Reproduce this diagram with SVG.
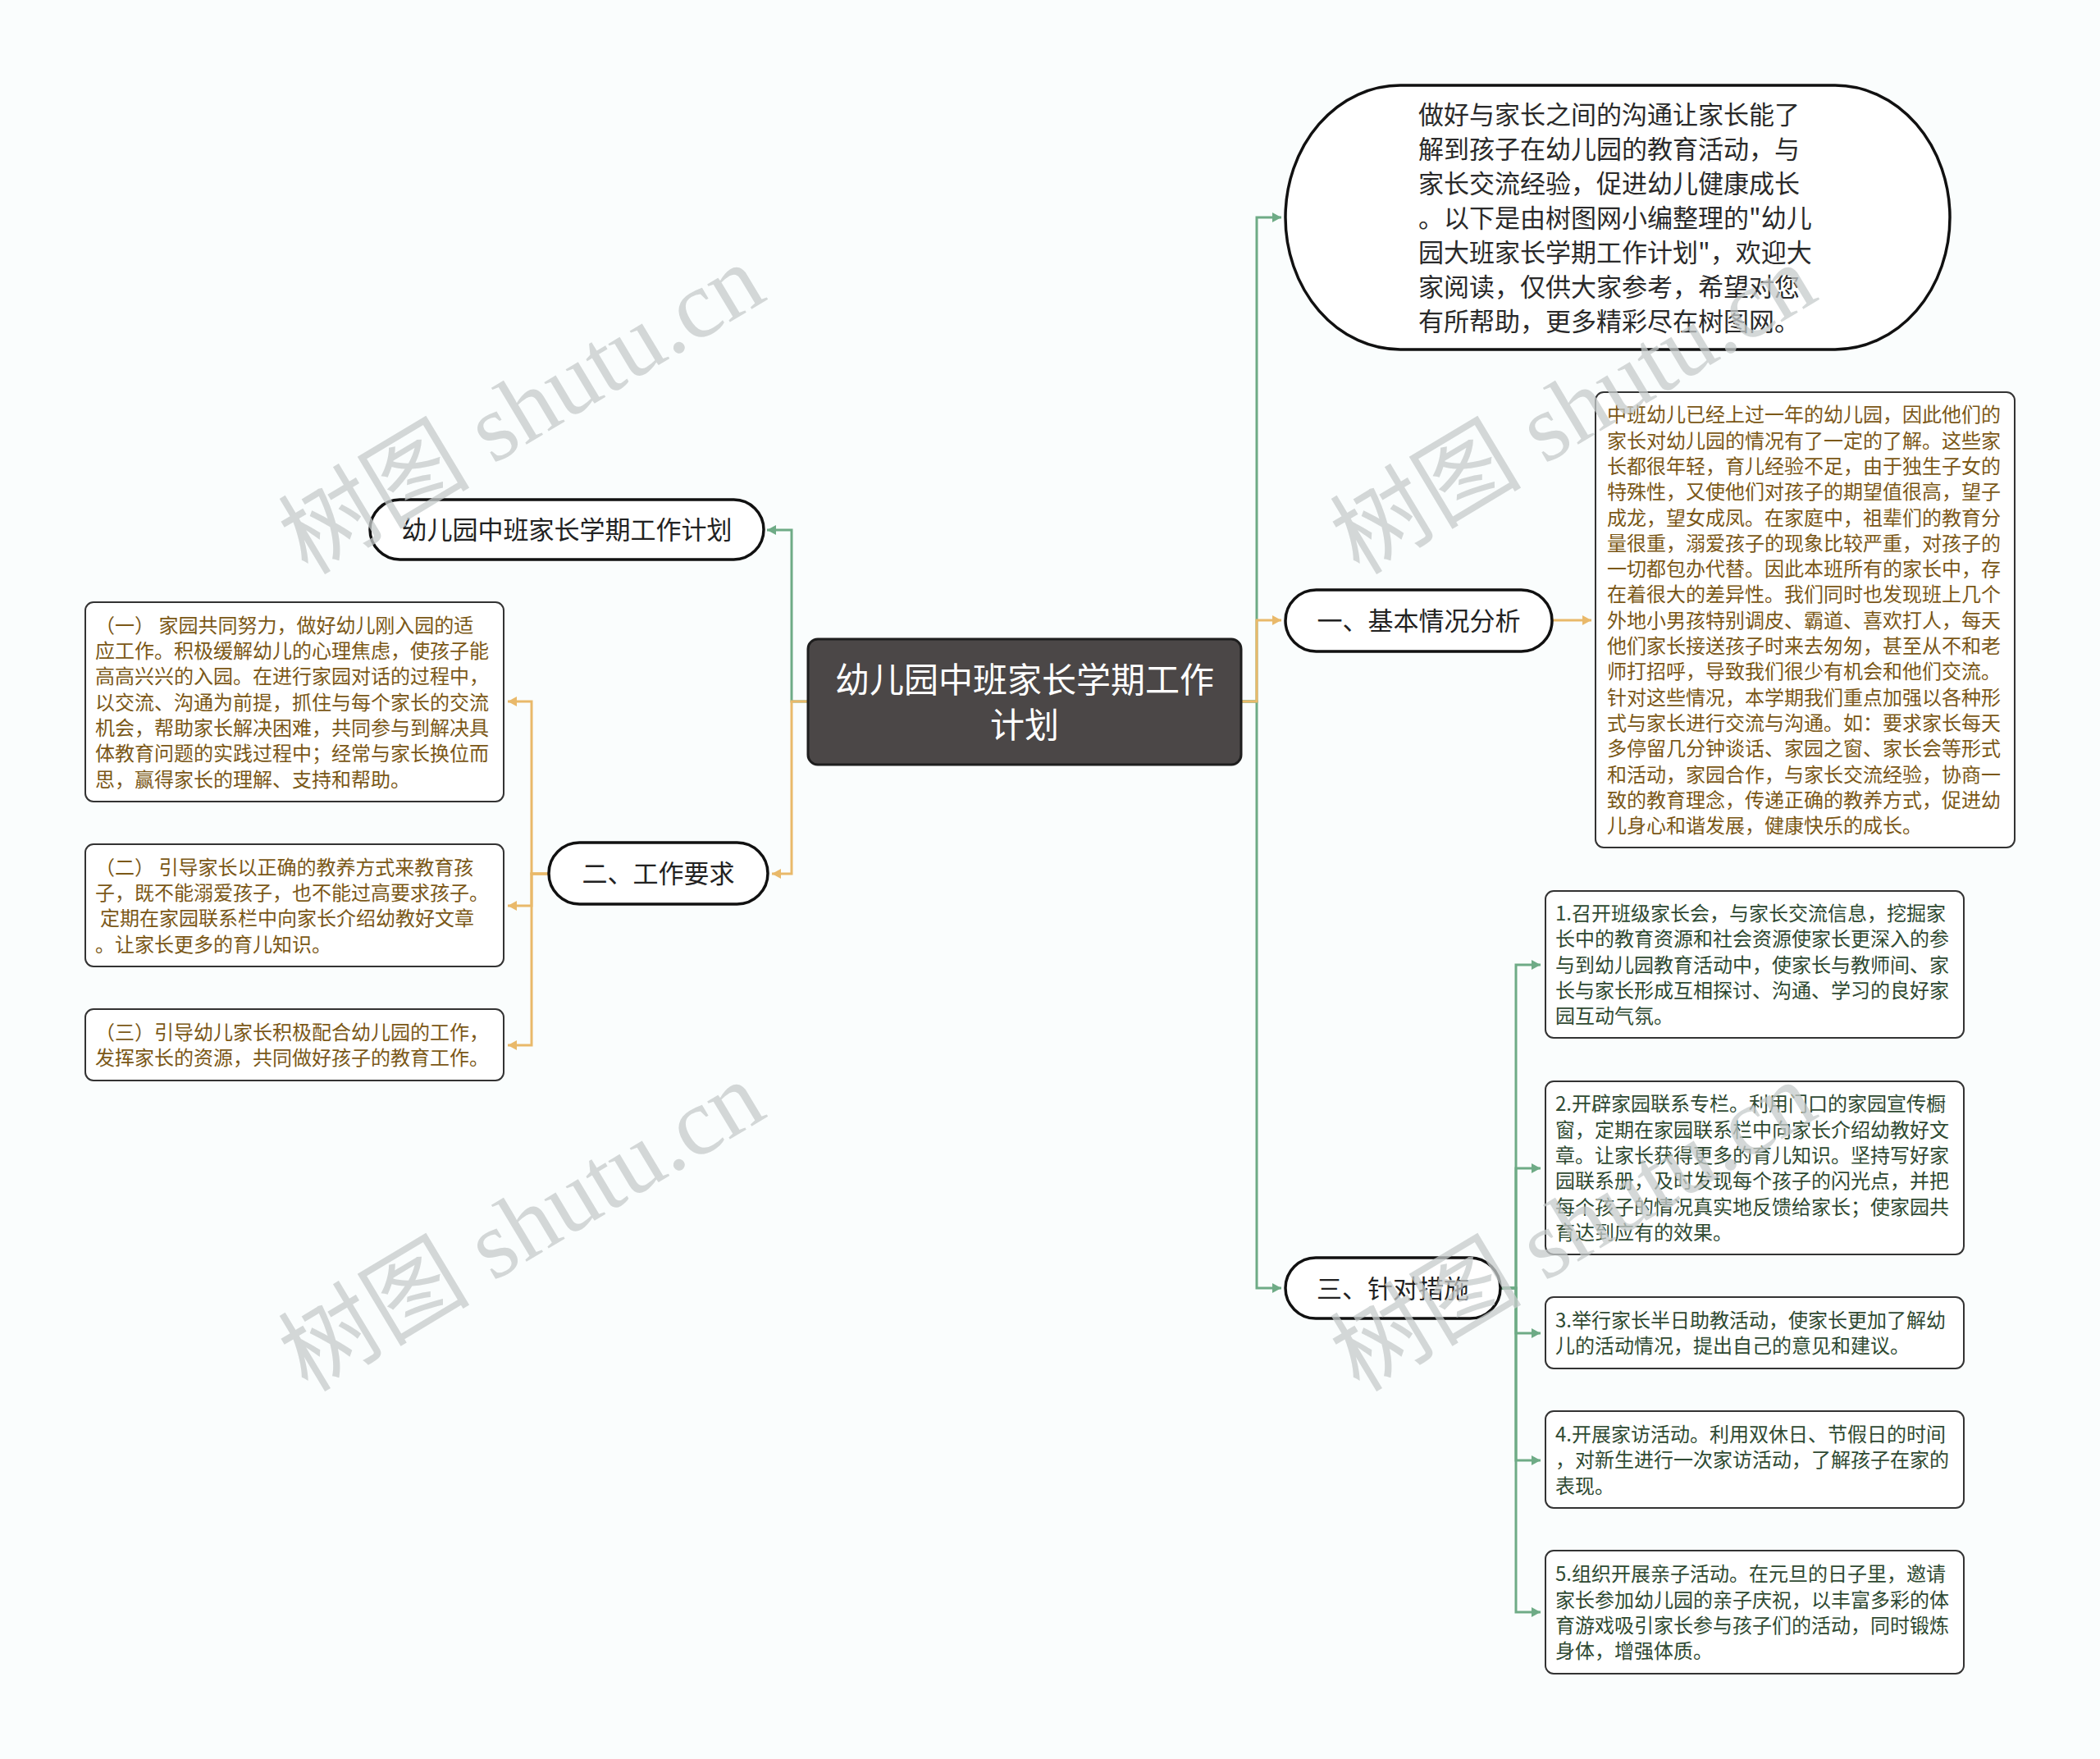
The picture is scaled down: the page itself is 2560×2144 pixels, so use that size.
<svg xmlns="http://www.w3.org/2000/svg" width="2560" height="2144" viewBox="0 0 2560 2144">
<defs>
<style>
.bg{fill:#fafdfd}
.root{fill:#4b4747;stroke:#1e1e1e;stroke-width:3}
.pill{fill:#fff;stroke:#111;stroke-width:3.5}
.box{fill:#fff;stroke:#333;stroke-width:2}
.t{font-family:"Noto Sans CJK SC","Noto Sans",sans-serif}
.rt{font-size:42px;fill:#fff;text-anchor:middle}
.pt{font-size:31px;fill:#222;text-anchor:middle}
.it{font-size:31px;fill:#2a2a2a}
.bt{font-size:24px;fill:#7b5817}
.gt{font-size:24px;fill:#2f4a32}
.cg{fill:none;stroke:#6eab86;stroke-width:3}
.co{fill:none;stroke:#e9b96a;stroke-width:3}
.wm{font-family:"Liberation Serif","Noto Sans CJK SC",serif;font-size:117px;fill:#c6cbcb;opacity:0.75}
</style>
<marker id="ag" markerUnits="userSpaceOnUse" markerWidth="12" markerHeight="14" refX="11" refY="7" orient="auto"><path d="M0,1 L11,7 L0,13 Z" fill="#6eab86"/></marker>
<marker id="ao" markerUnits="userSpaceOnUse" markerWidth="12" markerHeight="14" refX="11" refY="7" orient="auto"><path d="M0,1 L11,7 L0,13 Z" fill="#e9b96a"/></marker>
</defs>
<rect class="bg" x="0" y="0" width="2560" height="2144"/>

<g id="connectors">
<path class="cg" d="M1513,855 H1532 V265 H1562" marker-end="url(#ag)"/>
<path class="cg" d="M1513,855 H1532 V1570 H1562" marker-end="url(#ag)"/>
<path class="co" d="M1513,855 H1532 V756 H1562" marker-end="url(#ao)"/>
<path class="cg" d="M984,855 H965 V646 H935" marker-end="url(#ag)"/>
<path class="co" d="M984,855 H965 V1065 H941" marker-end="url(#ao)"/>
<path class="co" d="M1892,756 H1940" marker-end="url(#ao)"/>
<path class="co" d="M669,1065 H648 V855 H619" marker-end="url(#ao)"/>
<path class="co" d="M669,1065 H648 V1104 H619" marker-end="url(#ao)"/>
<path class="co" d="M669,1065 H648 V1274 H619" marker-end="url(#ao)"/>
<path class="cg" d="M1829,1570 H1848 V1176 H1878" marker-end="url(#ag)"/>
<path class="cg" d="M1829,1570 H1848 V1424 H1878" marker-end="url(#ag)"/>
<path class="cg" d="M1829,1570 H1848 V1625 H1878" marker-end="url(#ag)"/>
<path class="cg" d="M1829,1570 H1848 V1780 H1878" marker-end="url(#ag)"/>
<path class="cg" d="M1829,1570 H1848 V1965 H1878" marker-end="url(#ag)"/>
</g>

<g id="root">
<rect class="root" x="985" y="779" width="528" height="153" rx="12"/>
<text class="t rt" x="1249" y="844">幼儿园中班家长学期工作</text>
<text class="t rt" x="1249" y="899">计划</text>
</g>

<g id="intro">
<rect class="pill" x="1567" y="104" width="810" height="322" rx="140" ry="161"/>
<text class="t it" x="1729" y="151">做好与家长之间的沟通让家长能了</text>
<text class="t it" x="1729" y="193">解到孩子在幼儿园的教育活动，与</text>
<text class="t it" x="1729" y="235">家长交流经验，促进幼儿健康成长</text>
<text class="t it" x="1729" y="277">。以下是由树图网小编整理的"幼儿</text>
<text class="t it" x="1729" y="319">园大班家长学期工作计划"，欢迎大</text>
<text class="t it" x="1729" y="361">家阅读，仅供大家参考，希望对您</text>
<text class="t it" x="1729" y="403">有所帮助，更多精彩尽在树图网。</text>
</g>

<g id="title">
<rect class="pill" x="451" y="609" width="480" height="73" rx="36.5"/>
<text class="t pt" x="691" y="657">幼儿园中班家长学期工作计划</text>
</g>

<g id="sec1">
<rect class="pill" x="1567" y="719" width="325" height="75" rx="37.5"/>
<text class="t pt" x="1729.5" y="768">一、基本情况分析</text>
</g>

<g id="sec1-detail">
<rect class="box" x="1945" y="478" width="511" height="555" rx="10"/>
<text class="t bt" x="1959">
<tspan x="1959" y="514.3">中班幼儿已经上过一年的幼儿园，因此他们的</tspan>
<tspan x="1959" y="545.6">家长对幼儿园的情况有了一定的了解。这些家</tspan>
<tspan x="1959" y="576.9">长都很年轻，育儿经验不足，由于独生子女的</tspan>
<tspan x="1959" y="608.2">特殊性，又使他们对孩子的期望值很高，望子</tspan>
<tspan x="1959" y="639.5">成龙，望女成凤。在家庭中，祖辈们的教育分</tspan>
<tspan x="1959" y="670.8">量很重，溺爱孩子的现象比较严重，对孩子的</tspan>
<tspan x="1959" y="702.1">一切都包办代替。因此本班所有的家长中，存</tspan>
<tspan x="1959" y="733.4">在着很大的差异性。我们同时也发现班上几个</tspan>
<tspan x="1959" y="764.7">外地小男孩特别调皮、霸道、喜欢打人，每天</tspan>
<tspan x="1959" y="796.0">他们家长接送孩子时来去匆匆，甚至从不和老</tspan>
<tspan x="1959" y="827.3">师打招呼，导致我们很少有机会和他们交流。</tspan>
<tspan x="1959" y="858.6">针对这些情况，本学期我们重点加强以各种形</tspan>
<tspan x="1959" y="889.9">式与家长进行交流与沟通。如：要求家长每天</tspan>
<tspan x="1959" y="921.2">多停留几分钟谈话、家园之窗、家长会等形式</tspan>
<tspan x="1959" y="952.5">和活动，家园合作，与家长交流经验，协商一</tspan>
<tspan x="1959" y="983.8">致的教育理念，传递正确的教养方式，促进幼</tspan>
<tspan x="1959" y="1015.1">儿身心和谐发展，健康快乐的成长。</tspan>
</text>
</g>

<g id="sec2">
<rect class="pill" x="669" y="1027" width="267" height="75" rx="37.5"/>
<text class="t pt" x="802.5" y="1076">二、工作要求</text>
</g>

<g id="sec2-a">
<rect class="box" x="104" y="734" width="510" height="243" rx="10"/>
<text class="t bt">
<tspan x="116" y="770.8">（一） 家园共同努力，做好幼儿刚入园的适</tspan>
<tspan x="116" y="802.1">应工作。积极缓解幼儿的心理焦虑，使孩子能</tspan>
<tspan x="116" y="833.4">高高兴兴的入园。在进行家园对话的过程中，</tspan>
<tspan x="116" y="864.7">以交流、沟通为前提，抓住与每个家长的交流</tspan>
<tspan x="116" y="896.0">机会，帮助家长解决困难，共同参与到解决具</tspan>
<tspan x="116" y="927.3">体教育问题的实践过程中；经常与家长换位而</tspan>
<tspan x="116" y="958.6">思，赢得家长的理解、支持和帮助。</tspan>
</text>
</g>

<g id="sec2-b">
<rect class="box" x="104" y="1029" width="510" height="149" rx="10"/>
<text class="t bt">
<tspan x="116" y="1065.7">（二） 引导家长以正确的教养方式来教育孩</tspan>
<tspan x="116" y="1097.0">子，既不能溺爱孩子，也不能过高要求孩子。</tspan>
<tspan x="122" y="1128.3">定期在家园联系栏中向家长介绍幼教好文章</tspan>
<tspan x="116" y="1159.6">。让家长更多的育儿知识。</tspan>
</text>
</g>

<g id="sec2-c">
<rect class="box" x="104" y="1230" width="510" height="87" rx="10"/>
<text class="t bt">
<tspan x="116" y="1267">（三）引导幼儿家长积极配合幼儿园的工作，</tspan>
<tspan x="116" y="1298.3">发挥家长的资源，共同做好孩子的教育工作。</tspan>
</text>
</g>

<g id="sec3">
<rect class="pill" x="1567" y="1533" width="262" height="74" rx="37"/>
<text class="t pt" x="1698" y="1582">三、针对措施</text>
</g>

<g id="sec3-1">
<rect class="box" x="1884" y="1086" width="510" height="179" rx="10"/>
<text class="t gt">
<tspan x="1896" y="1122.1">1.召开班级家长会，与家长交流信息，挖掘家</tspan>
<tspan x="1896" y="1153.4">长中的教育资源和社会资源使家长更深入的参</tspan>
<tspan x="1896" y="1184.7">与到幼儿园教育活动中，使家长与教师间、家</tspan>
<tspan x="1896" y="1216.0">长与家长形成互相探讨、沟通、学习的良好家</tspan>
<tspan x="1896" y="1247.3">园互动气氛。</tspan>
</text>
</g>

<g id="sec3-2">
<rect class="box" x="1884" y="1318" width="510" height="211" rx="10"/>
<text class="t gt">
<tspan x="1896" y="1354.4">2.开辟家园联系专栏。利用门口的家园宣传橱</tspan>
<tspan x="1896" y="1385.7">窗，定期在家园联系栏中向家长介绍幼教好文</tspan>
<tspan x="1896" y="1417.0">章。让家长获得更多的育儿知识。坚持写好家</tspan>
<tspan x="1896" y="1448.3">园联系册，及时发现每个孩子的闪光点，并把</tspan>
<tspan x="1896" y="1479.6">每个孩子的情况真实地反馈给家长；使家园共</tspan>
<tspan x="1896" y="1510.9">育达到应有的效果。</tspan>
</text>
</g>

<g id="sec3-3">
<rect class="box" x="1884" y="1581" width="510" height="87" rx="10"/>
<text class="t gt">
<tspan x="1896" y="1618">3.举行家长半日助教活动，使家长更加了解幼</tspan>
<tspan x="1896" y="1649.3">儿的活动情况，提出自己的意见和建议。</tspan>
</text>
</g>

<g id="sec3-4">
<rect class="box" x="1884" y="1720" width="510" height="118" rx="10"/>
<text class="t gt">
<tspan x="1896" y="1756.9">4.开展家访活动。利用双休日、节假日的时间</tspan>
<tspan x="1896" y="1788.2">，对新生进行一次家访活动，了解孩子在家的</tspan>
<tspan x="1896" y="1819.5">表现。</tspan>
</text>
</g>

<g id="sec3-5">
<rect class="box" x="1884" y="1890" width="510" height="150" rx="10"/>
<text class="t gt">
<tspan x="1896" y="1927.2">5.组织开展亲子活动。在元旦的日子里，邀请</tspan>
<tspan x="1896" y="1958.5">家长参加幼儿园的亲子庆祝，以丰富多彩的体</tspan>
<tspan x="1896" y="1989.8">育游戏吸引家长参与孩子们的活动，同时锻炼</tspan>
<tspan x="1896" y="2021.1">身体，增强体质。</tspan>
</text>
</g>

<g id="watermarks">
<text class="wm" transform="translate(375,702) rotate(-31)">树图 shutu.cn</text>
<text class="wm" transform="translate(1657,702) rotate(-31)">树图 shutu.cn</text>
<text class="wm" transform="translate(375,1698) rotate(-31)">树图 shutu.cn</text>
<text class="wm" transform="translate(1657,1698) rotate(-31)">树图 shutu.cn</text>
</g>
</svg>
